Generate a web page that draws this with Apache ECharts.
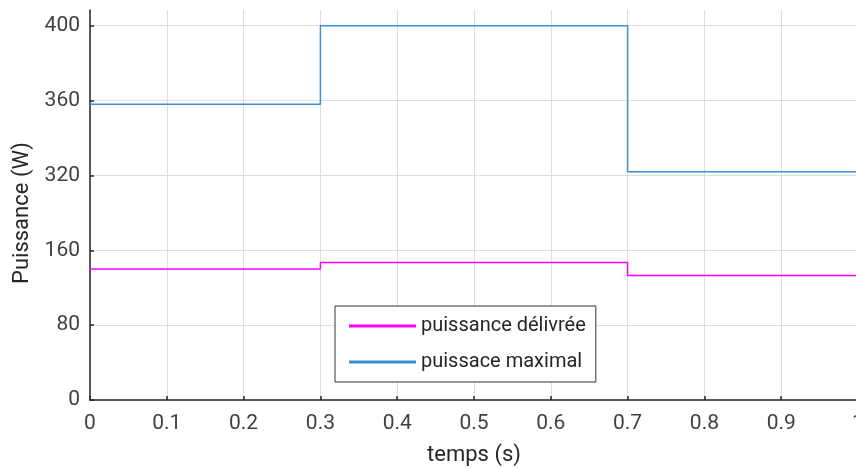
<!DOCTYPE html>
<html>
<head>
<meta charset="utf-8">
<script src="https://cdn.jsdelivr.net/npm/echarts@6/dist/echarts.min.js"></script>
<style>
  html, body { margin: 0; padding: 0; background: #fff; }
  #main { width: 856px; height: 468px; }
</style>
</head>
<body>
<div id="main"></div>
<script>
// axe des temps (s)
var temps = [0, 0.3, 0.7, 1];
// puissance maximale et puissance delivree (W)
var puissanceMax = [358, 400, 322, 322];
var puissanceDelivree = [140, 147, 133, 133];
// graduations de l'axe y (espacees regulierement sur la figure)
var yTicks = [0, 80, 160, 320, 360, 400];

// l'axe y est par morceaux : chaque graduation occupe le meme pas
function yPos(v) {
	for (var i = 0; i < yTicks.length - 1; i++) {
		if (v <= yTicks[i + 1]) {
			return i + (v - yTicks[i]) / (yTicks[i + 1] - yTicks[i]);
		}
	}
	return yTicks.length - 1;
}

function serie(vals) {
	var out = [];
	for (var i = 0; i < temps.length; i++) {
		out.push([temps[i], yPos(vals[i])]);
	}
	return out;
}

var myChart = echarts.init(document.getElementById('main'));
var axisCol = '#262626';
var font = 'Roboto';

var option = {
	animation : false,
	grid : {
		left : 90,
		top : 10,
		width : 768,
		height : 390,
		outerBoundsMode : 'none'
	},
	legend : {
		orient : 'vertical',
		left : 335,
		top : 306,
		padding : [10, 10, 10, 14],
		itemGap : 16,
		itemWidth : 67,
		itemHeight : 3,
		icon : 'rect',
		borderColor : '#333',
		borderWidth : 1,
		backgroundColor : '#fff',
		textStyle : { fontFamily : font, fontSize : 20, color : axisCol },
		data : ['puissance délivrée', 'puissace maximal']
	},
	xAxis : {
		type : 'value',
		min : 0,
		max : 1,
		interval : 0.1,
		name : 'temps (s)',
		nameLocation : 'middle',
		nameGap : 44,
		nameTextStyle : { fontFamily : font, fontSize : 22, color : axisCol },
		axisLine : { lineStyle : { color : axisCol, width : 1.5 } },
		axisTick : { inside : true, length : 4, lineStyle : { color : axisCol, width : 1.5 } },
		axisLabel : { fontFamily : font, fontSize : 21, color : '#404040', margin : 13 },
		splitLine : { lineStyle : { color : '#dedede', width : 1 } }
	},
	yAxis : {
		type : 'value',
		min : 0,
		max : 5.21,
		interval : 1,
		name : 'Puissance (W)',
		nameLocation : 'middle',
		nameGap : 55,
		nameTextStyle : { fontFamily : font, fontSize : 22, color : axisCol, padding : [0, 16, 0, 0] },
		axisLine : { show : true, lineStyle : { color : axisCol, width : 1.5 } },
		axisTick : { show : true, inside : true, length : 4, lineStyle : { color : axisCol, width : 1.5 } },
		axisLabel : {
			fontFamily : font, fontSize : 21, color : '#404040', margin : 10,
			showMaxLabel : false,
			formatter : function(v) {
				return (Math.abs(v - Math.round(v)) < 1e-6) ? String(yTicks[Math.round(v)]) : '';
			}
		},
		splitLine : { showMaxLine : false, lineStyle : { color : '#dedede', width : 1 } }
	},
	series : [ {
		name : 'puissance délivrée',
		type : 'line',
		step : 'end',
		symbol : 'none',
		color : '#ff00ff',
		lineStyle : { width : 1.5 },
		data : serie(puissanceDelivree)
	}, {
		name : 'puissace maximal',
		type : 'line',
		step : 'end',
		symbol : 'none',
		color : '#3b8fd2',
		lineStyle : { width : 1.5 },
		data : serie(puissanceMax)
	} ]
};
myChart.setOption(option);
</script>
</body>
</html>
